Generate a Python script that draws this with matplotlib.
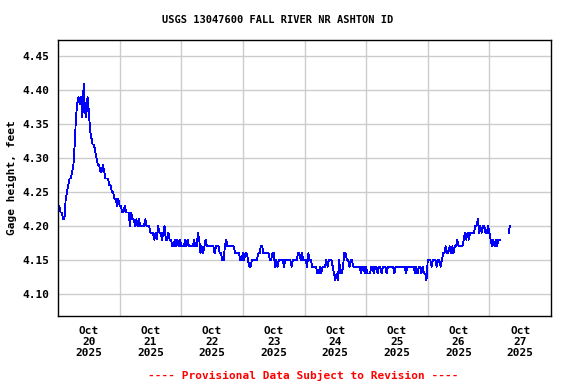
#!/usr/bin/env python3
"""USGS gage height plot, Fall River nr Ashton ID, Oct 20-27 2025."""
import matplotlib
matplotlib.use("Agg")
import matplotlib.pyplot as plt
from matplotlib.ticker import FixedLocator, NullFormatter

# gage height (ft), every 30 min starting Oct 20 00:00
day1 = [4.23, 4.23, 4.22, 4.22, 4.21, 4.21, 4.24, 4.25, 4.26, 4.27, 4.27, 4.28,
        4.29, 4.32, 4.36, 4.38, 4.39, 4.38, 4.39, 4.36, 4.41, 4.37, 4.36, 4.39,
        4.37, 4.34, 4.33, 4.32, 4.32, 4.31, 4.30, 4.29, 4.29, 4.28, 4.28, 4.29,
        4.28, 4.27, 4.27, 4.27, 4.26, 4.26, 4.25, 4.25, 4.24, 4.24, 4.23, 4.24]
day2 = [4.23, 4.23, 4.22, 4.22, 4.23, 4.22, 4.22, 4.22, 4.20, 4.22, 4.21, 4.21,
        4.20, 4.21, 4.20, 4.21, 4.20, 4.20, 4.20, 4.20, 4.21, 4.20, 4.20, 4.20,
        4.19, 4.19, 4.19, 4.18, 4.19, 4.18, 4.20, 4.19, 4.19, 4.18, 4.19, 4.20,
        4.18, 4.18, 4.19, 4.18, 4.18, 4.17, 4.17, 4.18, 4.17, 4.18, 4.17, 4.18]
day3 = [4.17, 4.17, 4.17, 4.18, 4.17, 4.18, 4.17, 4.17, 4.17, 4.17, 4.18, 4.17,
        4.17, 4.19, 4.18, 4.16, 4.17, 4.16, 4.17, 4.18, 4.17, 4.17, 4.17, 4.17,
        4.17, 4.17, 4.16, 4.17, 4.17, 4.17, 4.16, 4.16, 4.15, 4.15, 4.17, 4.18,
        4.17, 4.17, 4.17, 4.17, 4.17, 4.17, 4.16, 4.16, 4.16, 4.16, 4.15, 4.15]
day4 = [4.16, 4.15, 4.16, 4.16, 4.15, 4.14, 4.14, 4.15, 4.15, 4.15, 4.15, 4.15,
        4.16, 4.16, 4.17, 4.17, 4.16, 4.16, 4.16, 4.16, 4.16, 4.15, 4.15, 4.16,
        4.16, 4.14, 4.15, 4.14, 4.15, 4.15, 4.15, 4.15, 4.14, 4.15, 4.15, 4.15,
        4.15, 4.15, 4.14, 4.15, 4.15, 4.15, 4.15, 4.16, 4.16, 4.15, 4.16, 4.15]
day5 = [4.15, 4.15, 4.14, 4.16, 4.15, 4.15, 4.14, 4.14, 4.14, 4.14, 4.13, 4.13,
        4.14, 4.13, 4.14, 4.14, 4.14, 4.15, 4.14, 4.15, 4.15, 4.15, 4.14, 4.13,
        4.12, 4.13, 4.12, 4.15, 4.13, 4.13, 4.14, 4.16, 4.16, 4.15, 4.15, 4.14,
        4.15, 4.15, 4.14, 4.14, 4.14, 4.14, 4.14, 4.14, 4.13, 4.14, 4.14, 4.13]
day6 = [4.14, 4.13, 4.13, 4.13, 4.14, 4.14, 4.13, 4.14, 4.14, 4.13, 4.14, 4.14,
        4.13, 4.14, 4.14, 4.14, 4.13, 4.14, 4.14, 4.14, 4.14, 4.14, 4.13, 4.14,
        4.14, 4.14, 4.14, 4.14, 4.14, 4.14, 4.14, 4.13, 4.14, 4.14, 4.14, 4.14,
        4.14, 4.14, 4.13, 4.14, 4.13, 4.14, 4.14, 4.13, 4.14, 4.13, 4.13, 4.12]
day7 = [4.15, 4.15, 4.15, 4.14, 4.15, 4.15, 4.15, 4.14, 4.15, 4.15, 4.14, 4.15,
        4.16, 4.16, 4.17, 4.16, 4.16, 4.17, 4.16, 4.17, 4.16, 4.17, 4.17, 4.18,
        4.17, 4.17, 4.17, 4.17, 4.18, 4.19, 4.18, 4.19, 4.18, 4.19, 4.19, 4.19,
        4.19, 4.20, 4.20, 4.21, 4.19, 4.20, 4.19, 4.20, 4.20, 4.19, 4.19, 4.20]
day8 = [4.19, 4.18, 4.17, 4.18, 4.17, 4.18, 4.17, 4.18, 4.18]
# short segment after the data gap on Oct 27 (hours since Oct 20 00:00)
tail_hours = [175.5, 176.0]
tail_vals = [4.19, 4.20]

main_vals = day1 + day2 + day3 + day4 + day5 + day6 + day7 + day8
main_hours = [0.5 * i for i in range(len(main_vals))]

day_labels = ["Oct\n20\n2025", "Oct\n21\n2025", "Oct\n22\n2025", "Oct\n23\n2025",
              "Oct\n24\n2025", "Oct\n25\n2025", "Oct\n26\n2025", "Oct\n27\n2025"]
y_ticks = [4.10, 4.15, 4.20, 4.25, 4.30, 4.35, 4.40, 4.45]

FONT = "DejaVu Sans Mono"

fig = plt.figure(figsize=(5.76, 3.84), dpi=100)
ax = fig.add_axes([58 / 576, 1 - 316 / 384, 493 / 576, 276 / 384])

ax.plot(main_hours, main_vals, color="#0000ff", lw=0.6, antialiased=False)
ax.plot(tail_hours, tail_vals, color="#0000ff", lw=0.6, antialiased=False)

ax.set_xlim(0, 192)
ax.set_ylim(4.0675, 4.474)

# grid at midnights, labels at noon
ax.xaxis.set_major_locator(FixedLocator([24 * i for i in range(1, 8)]))
ax.xaxis.set_major_formatter(NullFormatter())
ax.xaxis.set_minor_locator(FixedLocator([12 + 24 * i for i in range(8)]))
ax.set_xticklabels(day_labels, minor=True)
ax.set_yticks(y_ticks)
ax.set_yticklabels([f"{v:.2f}" for v in y_ticks])

ax.grid(True, which="major", color="#cccccc", lw=1.0)
ax.set_axisbelow(True)
ax.tick_params(which="both", length=0)
ax.tick_params(axis="y", pad=6)
ax.tick_params(axis="x", which="minor", pad=7)
for lab in ax.get_yticklabels() + ax.get_xticklabels(minor=True):
    lab.set_fontfamily(FONT)
    lab.set_fontweight("bold")
    lab.set_fontsize(8)
    lab.set_linespacing(1.15)
for sp in ax.spines.values():
    sp.set_color("black")
    sp.set_linewidth(1.0)

ax.set_ylabel("Gage height, feet", fontfamily=FONT, fontweight="bold",
              fontsize=8, labelpad=4)

fig.text(277.5 / 576, 1 - 20 / 384, "USGS 13047600 FALL RIVER NR ASHTON ID",
         ha="center", va="center", fontfamily=FONT, fontweight="bold",
         fontsize=7.5)
fig.text(303 / 576, 1 - 375 / 384,
         "---- Provisional Data Subject to Revision ----",
         ha="center", va="center", color="red", fontfamily=FONT,
         fontweight="bold", fontsize=8)

fig.savefig("out.png", dpi=100)
